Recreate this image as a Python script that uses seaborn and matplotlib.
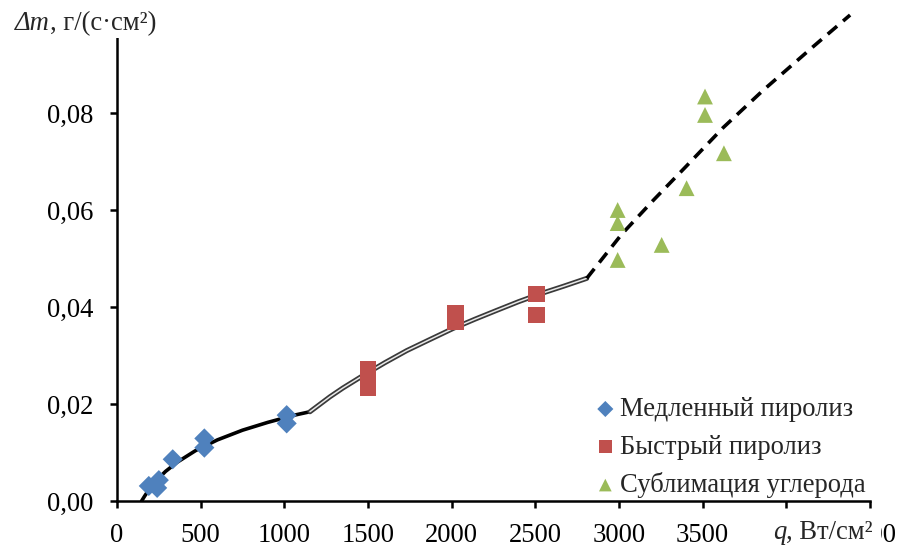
import numpy as np
import pandas as pd
import seaborn as sns
import matplotlib
matplotlib.use('Agg')
import matplotlib.pyplot as plt
from matplotlib.patches import Rectangle
from matplotlib.text import Annotation

slow_q = [190, 250, 240, 333, 522, 522, 1014, 1014]
slow_dm = [0.0031, 0.0043, 0.0027, 0.0086, 0.0129, 0.0110, 0.0177, 0.0160]
fast_q = [1500, 1500, 1500, 2022, 2022, 2506, 2506]
fast_dm = [0.0271, 0.0250, 0.0233, 0.0388, 0.0369, 0.0427, 0.0384]
subl_q = [3514, 3514, 3627, 3404, 2992, 2992, 3255, 2992]
subl_dm = [0.0834, 0.0796, 0.0717, 0.0645, 0.0600, 0.0573, 0.0528, 0.0497]

# Линии аппроксимации
curve1_q = [147, 165, 190, 217, 240, 290, 360, 470, 600, 750, 900, 1060, 1153]
curve1_dm = [0.0, 0.0010, 0.0023, 0.0035, 0.0044, 0.0061, 0.0080, 0.0104, 0.0126,
             0.0146, 0.0162, 0.0177, 0.0184]
curve2_q = [1153, 1273, 1350, 1472, 1600, 1731, 1870, 2010, 2140, 2269, 2400, 2528, 2670, 2807]
curve2_dm = [0.0184, 0.0215, 0.0233, 0.0259, 0.0285, 0.0310, 0.0333, 0.0356, 0.0375,
             0.0393, 0.0411, 0.0427, 0.0443, 0.0459]
curve3_q = [2807, 3016, 3205, 3404, 3623, 3862, 4161, 4381]
curve3_dm = [0.0459, 0.0550, 0.0620, 0.0691, 0.0770, 0.0847, 0.0937, 0.1002]

labels = ["Медленный пиролиз", "Быстрый пиролиз", "Сублимация углерода"]
colors = ["#4F81BD", "#C0504D", "#9BBB59"]

xticks = [0, 500, 1000, 1500, 2000, 2500, 3000, 3500, 4000, 4500]
yticks = [0.0, 0.02, 0.04, 0.06, 0.08, 0.10]
ytick_labels = ["0,00", "0,02", "0,04", "0,06", "0,08", "0,10"]

sns.set_theme(style="white")
plt.rcParams['font.family'] = ['Liberation Serif', 'DejaVu Serif']

fs = 19.2

fig = plt.figure(figsize=(9.02, 5.47), dpi=100)
ax = fig.add_axes([117 / 902, 46 / 547, 753 / 902, 485 / 547])

# линии
sns.lineplot(x=curve1_q, y=curve1_dm, ax=ax, color="black", lw=2.6,
             sort=False, estimator=None, zorder=2)
sns.lineplot(x=curve2_q, y=curve2_dm, ax=ax, color="#3a3a3a", lw=3.6,
             sort=False, estimator=None, zorder=2)
sns.lineplot(x=curve2_q, y=curve2_dm, ax=ax, color="#e8e8e8", lw=1.1,
             sort=False, estimator=None, zorder=2)
sns.lineplot(x=curve3_q, y=curve3_dm, ax=ax, color="black", lw=2.6,
             linestyle=(0, (3.4, 2.2)), sort=False, estimator=None,
             clip_on=False, zorder=2)

# точки
sns.scatterplot(x=slow_q, y=slow_dm, ax=ax, marker="D", s=105, color=colors[0],
                edgecolor="none", label=labels[0], zorder=3)
sns.scatterplot(x=fast_q, y=fast_dm, ax=ax, marker="s", s=140, color=colors[1],
                edgecolor="none", label=labels[1], zorder=3)
sns.scatterplot(x=subl_q, y=subl_dm, ax=ax, marker="^", s=130, color=colors[2],
                edgecolor="none", label=labels[2], zorder=3)

ax.set_xlim(0, 4500)
ax.set_ylim(0, 0.10)
ax.set_xticks(xticks)
ax.set_xticklabels([str(t) for t in xticks])
ax.set_yticks(yticks)
ax.set_yticklabels(ytick_labels)
ax.tick_params(axis='both', which='major', labelsize=fs, colors='black',
               direction='out', length=5, width=1.8, bottom=True, left=True)
ax.tick_params(axis='y', pad=12)
ax.tick_params(axis='x', pad=11)
for side in ['top', 'right']:
    ax.spines[side].set_visible(False)
for side in ['left', 'bottom']:
    ax.spines[side].set_color('black')
    ax.spines[side].set_linewidth(1.8)
ax.set_xlabel("")
ax.set_ylabel("")

leg = ax.legend(loc='upper left', bbox_to_anchor=(572 / 902, 174 / 547),
                bbox_transform=fig.transFigure, frameon=False, fontsize=fs,
                handlelength=0.7, handletextpad=0.2, labelspacing=0.47,
                markerscale=0.8, borderpad=0.4)

# подписи осей на белом фоне (перекрывают конец осей, как в оригинале)
fig.add_artist(Rectangle((0, 509 / 547), 165 / 902, 38 / 547, transform=fig.transFigure,
                         facecolor='white', edgecolor='none', zorder=1))
fig.add_artist(Rectangle((757 / 902, 0), 124 / 902, 34 / 547, transform=fig.transFigure,
                         facecolor='white', edgecolor='none', zorder=1))

t1 = fig.text(15 / 902, (547 - 30) / 547, "Δm", fontsize=fs, style='italic',
              va='baseline', ha='left', zorder=2)
fig.add_artist(Annotation(", г/(с·см²)", xy=(1, 0), xycoords=t1, fontsize=fs,
                          va='bottom', ha='left', zorder=2, annotation_clip=False))
t2 = fig.text(773 / 902, (547 - 539) / 547, "q", fontsize=fs, style='italic',
              va='baseline', ha='left', zorder=2)
fig.add_artist(Annotation(", Вт/см²", xy=(1, 0), xycoords=t2, fontsize=fs,
                          va='bottom', ha='left', zorder=2, annotation_clip=False))

fig.savefig("out.png", dpi=100)
